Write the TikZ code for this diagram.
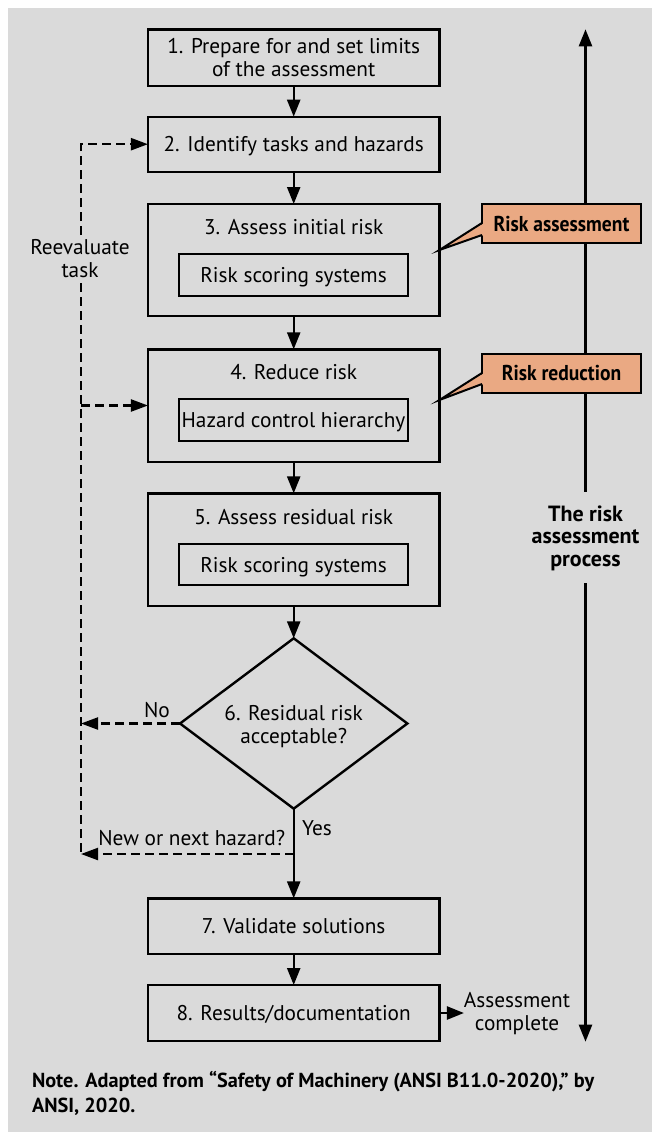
\documentclass[tikz,border=0pt]{standalone}
\usepackage{fontspec}
\setmainfont{PT Sans}
\newfontfamily\condfont[FakeStretch=0.91]{PT Sans}
\usetikzlibrary{arrows.meta,shapes.geometric}
\definecolor{bg}{RGB}{218,218,218}
\definecolor{salmon}{RGB}{234,169,131}
\begin{document}
\begin{tikzpicture}[x=1pt,y=-1pt,
  every node/.style={inner sep=0pt, outer sep=0pt},
  txt/.style={font=\fontsize{21.3}{23}\selectfont, text height=15pt, text depth=0pt, align=center},
  box/.style={txt, draw, line width=2.4pt, minimum width=291.5pt},
  inbox/.style={txt, draw, line width=2pt, minimum width=229pt},
  flow/.style={line width=2.4pt, -{Triangle[length=17pt,width=13pt]}},
  fb/.style={line width=2.2pt, dash pattern=on 9pt off 5pt, -{Triangle[length=17pt,width=12pt]}},
  fbline/.style={line width=2.2pt, dash pattern=on 9pt off 5pt},
  callout/.style={font=\condfont\bfseries\fontsize{21.5}{24}\selectfont, text height=15pt, text depth=0pt, fill=salmon, draw, line width=2pt, minimum width=159pt, minimum height=39pt},
  boldlbl/.style={font=\bfseries\fontsize{22}{22.5}\selectfont, align=center, text depth=0pt},
]
\useasboundingbox (0,0) rectangle (652,1132);
\fill[bg] (8,8) rectangle (652,1132);

% main boxes
\node[box, minimum height=56.7pt, text height=38pt] (b1) at (293.7,57.7) {1. Prepare for and set limits\\of the assessment};
\node[box, minimum height=55pt] (b2) at (293.7,144.2) {2. Identify tasks and hazards};
\node[box, minimum height=112pt] (b3) at (293.7,260) {};
\node[txt] (t3) at (293.7,226.7) {3. Assess initial risk};
\node[inbox, minimum height=42pt] (i3) at (293.5,275) {Risk scoring systems};
\node[box, minimum height=112.4pt] (b4) at (293.7,405.5) {};
\node[txt] (t4) at (293.7,371.7) {4. Reduce risk};
\node[inbox, minimum height=41.7pt] (i4) at (293.5,420) {Hazard control hierarchy};
\node[box, minimum height=112.7pt] (b5) at (293.7,549.7) {};
\node[txt] (t5) at (293.7,516.7) {5. Assess residual risk};
\node[inbox, minimum height=41pt] (i5) at (293.5,564.5) {Risk scoring systems};
\node[diamond, draw, line width=2.4pt, minimum width=227.3pt, minimum height=170.4pt] (dia) at (293.7,723.5) {};
\node[txt, text height=38pt] (t6) at (293.7,724.5) {6. Residual risk\\acceptable?};
\node[box, minimum height=55.7pt] (b7) at (293.7,926.2) {7. Validate solutions};
\node[box, minimum height=56pt] (b8) at (293.7,1013) {8. Results/documentation};
\node[txt, text height=38pt] (ac) at (517,1011.5) {Assessment\\complete};

% main flow
\draw[flow] (b1.south) -- (b2.north);
\draw[flow] (b2.south) -- (b3.north);
\draw[flow] (b3.south) -- (b4.north);
\draw[flow] (b4.south) -- (b5.north);
\draw[flow] (b5.south) -- (dia.north);
\draw[flow] (dia.south) -- (b7.north);
\draw[flow] (b7.south) -- (b8.north);
\draw[flow] (b8.east) -- (b8.east -| ac.west);

% feedback loop
\node[txt, text height=38pt] (rev) at (80,258.7) {Reevaluate\\task};
\coordinate (corner) at (81,854);
\coordinate (yj) at (293.7,854);
\draw[fb] (81,235) |- (b2.west);
\draw[fbline] (81,283) -- (corner);
\draw[fb] (corner |- b4.west) -- (b4.west);
\draw[fb] (dia.west) -- (corner |- dia.west);
\draw[fb] (yj) -- (corner);
\node[txt, anchor=base] (no) at (157,717) {No};
\node[txt, anchor=base west] (yes) at (302,835) {Yes};
\node[txt, anchor=base] (nn) at (191.7,845) {New or next hazard?};

% process arrow
\node[boldlbl, text height=60pt] (proc) at (585.5,536.2) {The risk\\assessment\\process};
\coordinate (ptop) at (585.5,29.3);
\coordinate (pbot) at (585.5,1041.7);
\coordinate (pgt) at (585.5,491.7);
\coordinate (pgb) at (585.5,583);
\draw[flow] (pgt) -- (ptop);
\draw[flow] (pgb) -- (pbot);

% callouts
\node[callout] (ra) at (561.5,223.5) {Risk assessment};
\fill[salmon] ([xshift=2pt,yshift=0.5pt]ra.west) -- ([yshift=10pt]b3.east) -- ([xshift=2pt,yshift=-11.5pt]ra.west) -- cycle;
\draw[line width=2pt] ([yshift=0.5pt]ra.west) -- ([yshift=10pt]b3.east) -- ([yshift=-11.5pt]ra.west);
\node[callout] (rr) at (561.5,373) {Risk reduction};
\fill[salmon] ([xshift=2pt,yshift=0pt]rr.west) -- ([yshift=5.5pt]b4.east) -- ([xshift=2pt,yshift=-11pt]rr.west) -- cycle;
\draw[line width=2pt] ([yshift=0pt]rr.west) -- ([yshift=5.5pt]b4.east) -- ([yshift=-11pt]rr.west);

% note
\node[font=\bfseries\fontsize{20.3}{25}\selectfont, align=left, text height=39pt, text depth=0pt, anchor=north west] (note) at (32,1073) {Note. Adapted from “Safety of Machinery (ANSI B11.0-2020),” by\\ANSI, 2020.};
\end{tikzpicture}
\end{document}
